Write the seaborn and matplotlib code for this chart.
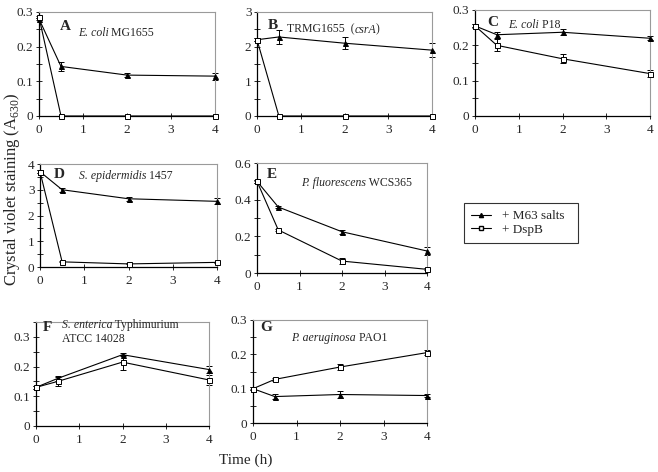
import numpy as np
import pandas as pd
import seaborn as sns
import matplotlib
matplotlib.use("Agg")
import matplotlib.pyplot as plt
from matplotlib.ticker import FuncFormatter, MultipleLocator
from matplotlib.lines import Line2D

# ---------- data ----------
time_h = [0, 0.5, 2, 4]

panels = ["A", "B", "C", "D", "E", "F", "G"]

m63_A = [0.28, 0.143, 0.118, 0.115]
m63_A_err = [0.004, 0.012, 0.005, 0.010]
dsp_A = [0.285, 0.0, 0.0, 0.0]
dsp_A_err = [0.003, 0.0, 0.0, 0.0]

m63_B = [2.2, 2.28, 2.1, 1.9]
m63_B_err = [0.05, 0.2, 0.18, 0.2]
dsp_B = [2.2, 0.0, 0.0, 0.0]
dsp_B_err = [0.05, 0.0, 0.0, 0.0]

m63_C = [0.255, 0.230, 0.237, 0.220]
m63_C_err = [0.004, 0.009, 0.008, 0.005]
dsp_C = [0.255, 0.200, 0.162, 0.120]
dsp_C_err = [0.004, 0.017, 0.013, 0.010]

m63_D = [3.7, 3.0, 2.65, 2.55]
m63_D_err = [0.05, 0.08, 0.08, 0.12]
dsp_D = [3.7, 0.2, 0.12, 0.18]
dsp_D_err = [0.05, 0.02, 0.02, 0.02]

m63_E = [0.50, 0.36, 0.225, 0.12]
m63_E_err = [0.01, 0.008, 0.012, 0.02]
dsp_E = [0.50, 0.235, 0.065, 0.02]
dsp_E_err = [0.01, 0.005, 0.015, 0.006]

m63_F = [0.13, 0.160, 0.240, 0.190]
m63_F_err = [0.004, 0.007, 0.005, 0.012]
dsp_F = [0.13, 0.150, 0.215, 0.155]
dsp_F_err = [0.004, 0.014, 0.025, 0.018]

m63_G = [0.10, 0.077, 0.083, 0.080]
m63_G_err = [0.004, 0.008, 0.010, 0.005]
dsp_G = [0.10, 0.127, 0.163, 0.205]
dsp_G_err = [0.004, 0.004, 0.010, 0.008]

titles = {
    "A": [("E. coli", True), (" MG1655", False)],
    "B": [("TRMG1655  (", False), ("csrA", True), (")", False)],
    "C": [("E. coli", True), (" P18", False)],
    "D": [("S. epidermidis", True), (" 1457", False)],
    "E": [("P. fluorescens", True), (" WCS365", False)],
    "F": [("S. enterica", True), (" Typhimurium", False)],
    "G": [("P. aeruginosa", True), (" PAO1", False)],
}

ylims = {"A": (0, 0.3), "B": (0, 3), "C": (0, 0.3), "D": (0, 4),
         "E": (0, 0.6), "F": (0, 0.35), "G": (0, 0.3)}
ymajor = {"A": 0.1, "B": 1, "C": 0.1, "D": 1, "E": 0.2, "F": 0.1, "G": 0.1}

series = {
    "A": (m63_A, m63_A_err, dsp_A, dsp_A_err),
    "B": (m63_B, m63_B_err, dsp_B, dsp_B_err),
    "C": (m63_C, m63_C_err, dsp_C, dsp_C_err),
    "D": (m63_D, m63_D_err, dsp_D, dsp_D_err),
    "E": (m63_E, m63_E_err, dsp_E, dsp_E_err),
    "F": (m63_F, m63_F_err, dsp_F, dsp_F_err),
    "G": (m63_G, m63_G_err, dsp_G, dsp_G_err),
}

# panel boxes in pixels: left, top, right, bottom
boxes = {
    "A": (39, 12, 215, 116),
    "B": (257, 12, 432, 116),
    "C": (475, 10, 650, 116),
    "D": (40, 164, 217, 267),
    "E": (257, 163, 427, 273),
    "F": (36, 322, 209, 426),
    "G": (253, 320, 427, 423),
}
# letter pos, label pos (axes fraction)
letter_pos = {"A": (0.12, 0.86), "B": (0.06, 0.87), "C": (0.07, 0.88),
              "D": (0.08, 0.9), "E": (0.06, 0.9), "F": (0.04, 0.95), "G": (0.04, 0.93)}
label_pos = {"A": (0.22, 0.80), "B": (0.17, 0.83), "C": (0.19, 0.86),
             "D": (0.22, 0.88), "E": (0.26, 0.82), "F": (0.15, 0.97), "G": (0.22, 0.83)}

# ---------- style ----------
sns.set_style("ticks")
plt.rcParams["font.family"] = ["Liberation Serif", "DejaVu Serif"]
plt.rcParams["mathtext.fontset"] = "custom"
plt.rcParams["mathtext.rm"] = "Liberation Serif"

W, H = 658, 472
fig = plt.figure(figsize=(W / 100, H / 100), dpi=100)

fmt0 = FuncFormatter(lambda v, p: "0" if abs(v) < 1e-9 else ("%g" % v))


def draw_series(ax, y, err, marker, face):
    sns.lineplot(x=time_h, y=y, ax=ax, color="black", linewidth=0.8,
                 marker=marker, markersize=3.6,
                 markerfacecolor=face, markeredgecolor="black",
                 markeredgewidth=0.7, clip_on=False, zorder=3)
    ax.errorbar(time_h, y, yerr=err, fmt="none", ecolor="black",
                elinewidth=0.7, capsize=2, capthick=0.7, clip_on=False, zorder=2)


for p in panels:
    l, t, r, b = boxes[p]
    ax = fig.add_axes([l / W, 1 - b / H, (r - l) / W, (b - t) / H])
    m63, m63_err, dsp, dsp_err = series[p]
    draw_series(ax, m63, m63_err, "^", "black")
    draw_series(ax, dsp, dsp_err, "s", "white")

    ax.set_xlim(0, 4)
    ax.set_ylim(*ylims[p])
    ax.set_xticks([0, 1, 2, 3, 4])
    ax.yaxis.set_major_locator(MultipleLocator(ymajor[p]))
    ax.yaxis.set_minor_locator(MultipleLocator(ymajor[p] / 2))
    ax.yaxis.set_major_formatter(fmt0)
    ax.tick_params(axis="both", which="both", direction="inout", labelsize=9.5,
                   width=0.7, pad=1.5)
    ax.tick_params(axis="both", which="major", length=5)
    ax.tick_params(axis="y", which="minor", length=4)
    ax.tick_params(axis="x", pad=3)
    for s in ["left", "bottom"]:
        ax.spines[s].set_linewidth(0.9)
        ax.spines[s].set_color("black")
    for s in ["top", "right"]:
        ax.spines[s].set_visible(True)
        ax.spines[s].set_linewidth(0.8)
        ax.spines[s].set_color("#9a9a9a")
    ax.set_xlabel("")
    ax.set_ylabel("")

    lx, ly = letter_pos[p]
    ax.text(lx, ly, p, transform=ax.transAxes, fontsize=11, fontweight="bold",
            ha="left", va="center")
    # species label with italic part
    tx, ty = label_pos[p]
    txt = None
    for part, italic in titles[p]:
        if txt is None:
            txt = ax.text(tx, ty, part, transform=ax.transAxes, fontsize=8.5,
                          style="italic" if italic else "normal",
                          ha="left", va="center")
        else:
            txt = ax.annotate(part, xycoords=txt, xy=(1, 0), va="bottom",
                              fontsize=8.5,
                              style="italic" if italic else "normal")
    if p == "F":
        ax.text(tx, 0.84, "ATCC 14028", transform=ax.transAxes, fontsize=8.5,
                ha="left", va="center")

# ---------- legend ----------
handles = [
    Line2D([], [], color="black", lw=0.8, marker="^", markersize=3,
           markerfacecolor="black"),
    Line2D([], [], color="black", lw=0.8, marker="s", markersize=3,
           markerfacecolor="white"),
]
leg = fig.legend(handles, ["+ M63 salts  ", "+ DspB"], loc="upper left",
                 bbox_to_anchor=(464 / W, 1 - 203 / H), fontsize=9.5,
                 frameon=True, fancybox=False, handlelength=1.5,
                 borderpad=0.55, borderaxespad=0, labelspacing=0.1,
                 handletextpad=0.8)
leg.get_frame().set_edgecolor("black")
leg.get_frame().set_linewidth(0.8)

# ---------- axis titles ----------
fig.text(0.018, 0.6, "Crystal violet staining (A$_{630}$)", rotation=90,
         fontsize=12, ha="center", va="center")
fig.text(0.374, 0.025, "Time (h)", fontsize=11, ha="center", va="center")

fig.savefig("out.png", dpi=100)
